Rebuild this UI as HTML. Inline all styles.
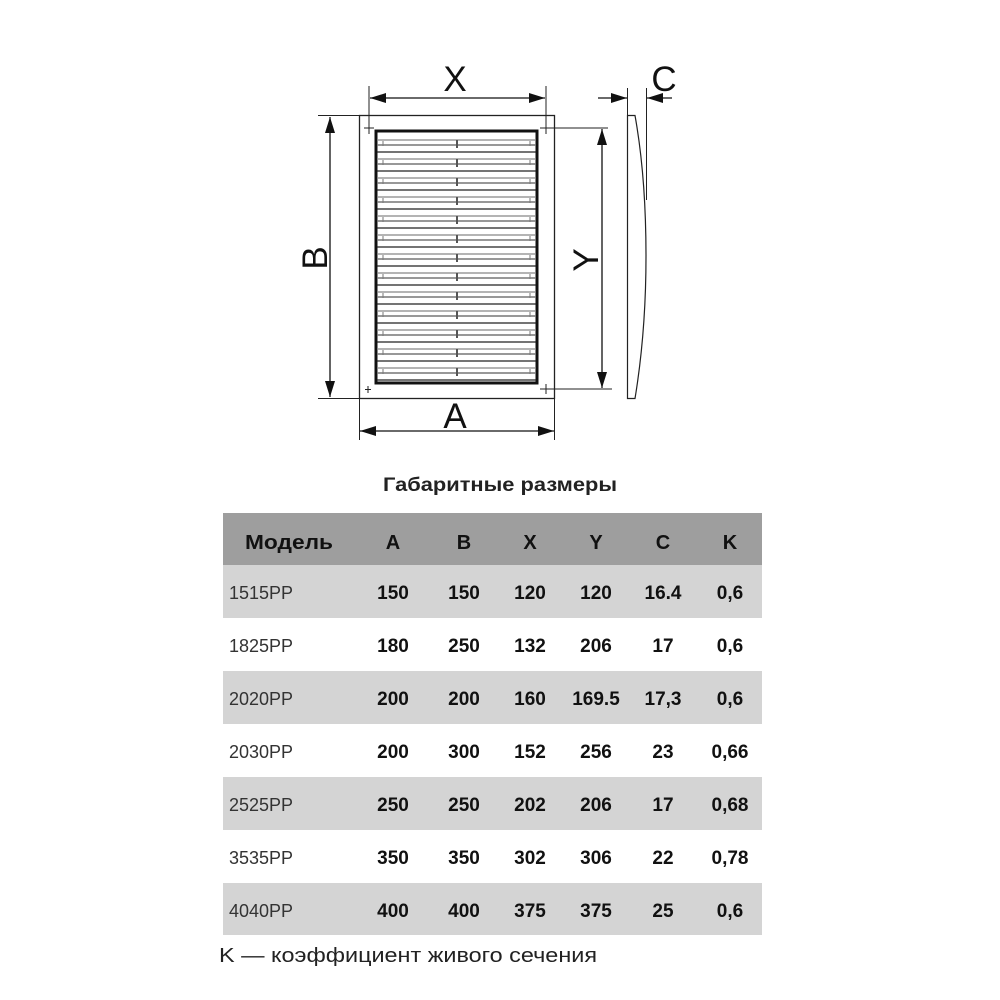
<!DOCTYPE html>
<html><head><meta charset="utf-8"><style>
html,body{margin:0;padding:0;background:#fff;}
svg{display:block}
text{font-family:"Liberation Sans","DejaVu Sans",sans-serif;}
</style></head><body>
<svg width="1000" height="1000" viewBox="0 0 1000 1000" xmlns="http://www.w3.org/2000/svg">
<defs>
<marker id="ar2" viewBox="0 0 16 10" refX="16" refY="5" markerWidth="16" markerHeight="10" markerUnits="userSpaceOnUse" orient="auto-start-reverse">
<path d="M0,0 L16,5 L0,10 Z" fill="#111"/></marker>
<g id="slat">
<line x1="377" y1="0" x2="536" y2="0" stroke="#888" stroke-width="1.2"/>
<line x1="377" y1="5" x2="536" y2="5" stroke="#777" stroke-width="1.5"/>
<line x1="377" y1="12" x2="536" y2="12" stroke="#222" stroke-width="1.3"/>
<line x1="383" y1="1" x2="383" y2="6" stroke="#777" stroke-width="1"/>
<line x1="530" y1="1" x2="530" y2="6" stroke="#777" stroke-width="1"/>
<line x1="457" y1="0" x2="457" y2="8" stroke="#555" stroke-width="2"/>
</g>
</defs>
<rect x="359.5" y="115.5" width="195" height="283" fill="none" stroke="#222" stroke-width="1.3"/>
<rect x="376" y="131" width="161" height="252" fill="#fff" stroke="#111" stroke-width="3"/>
<use href="#slat" transform="translate(0,140)"/>
<use href="#slat" transform="translate(0,159)"/>
<use href="#slat" transform="translate(0,178)"/>
<use href="#slat" transform="translate(0,197)"/>
<use href="#slat" transform="translate(0,216)"/>
<use href="#slat" transform="translate(0,235)"/>
<use href="#slat" transform="translate(0,254)"/>
<use href="#slat" transform="translate(0,273)"/>
<use href="#slat" transform="translate(0,292)"/>
<use href="#slat" transform="translate(0,311)"/>
<use href="#slat" transform="translate(0,330)"/>
<use href="#slat" transform="translate(0,349)"/>
<use href="#slat" transform="translate(0,368)"/>
<g stroke="#222" stroke-width="1">
<line x1="369" y1="86" x2="369" y2="134"/><line x1="364" y1="128" x2="374" y2="128"/>
<line x1="546" y1="86" x2="546" y2="134"/><line x1="540" y1="128" x2="608" y2="128"/>
<line x1="318" y1="115.5" x2="359" y2="115.5"/><line x1="318" y1="398.5" x2="359" y2="398.5"/>
<line x1="359.5" y1="398" x2="359.5" y2="440"/><line x1="554.5" y1="380" x2="554.5" y2="440"/>
<line x1="540" y1="389" x2="612" y2="389"/><line x1="546" y1="384" x2="546" y2="394"/>
<line x1="368" y1="386" x2="368" y2="393"/><line x1="365" y1="389.5" x2="371" y2="389.5"/>
<line x1="627.5" y1="88" x2="627.5" y2="115"/><line x1="646.5" y1="88" x2="646.5" y2="200"/>
</g>
<g stroke="#111" stroke-width="1.3" fill="none">
<line x1="370" y1="98" x2="545" y2="98" marker-start="url(#ar2)" marker-end="url(#ar2)"/>
<line x1="330" y1="117" x2="330" y2="397" marker-start="url(#ar2)" marker-end="url(#ar2)"/>
<line x1="360" y1="431" x2="554" y2="431" marker-start="url(#ar2)" marker-end="url(#ar2)"/>
<line x1="602" y1="129" x2="602" y2="388" marker-start="url(#ar2)" marker-end="url(#ar2)"/>
<line x1="598" y1="98" x2="627" y2="98" marker-end="url(#ar2)"/>
<line x1="672" y1="98" x2="647" y2="98" marker-end="url(#ar2)"/>
</g>
<path d="M627.5,115.5 L635,115.5 C643,160 646,210 646,256 C646,300 643,350 635,398.5 L627.5,398.5 Z" fill="#fff" stroke="#222" stroke-width="1.2"/>
<g font-size="35" fill="#111" text-anchor="middle">
<text x="455" y="91">X</text>
<text x="664" y="91">C</text>
<text x="455" y="428">A</text>
<text transform="translate(327,258) rotate(-90)">B</text>
<text transform="translate(598,260) rotate(-90)">Y</text>
</g>
<text x="383" y="491" font-size="19" font-weight="bold" fill="#222" textLength="234" lengthAdjust="spacingAndGlyphs">Габаритные размеры</text>
<rect x="223" y="513" width="539" height="52" fill="#9e9e9e"/>
<rect x="223" y="565" width="539" height="53" fill="#d4d4d4"/>
<rect x="223" y="671" width="539" height="53" fill="#d4d4d4"/>
<rect x="223" y="777" width="539" height="53" fill="#d4d4d4"/>
<rect x="223" y="883" width="539" height="52" fill="#d4d4d4"/>
<g font-size="20" font-weight="bold" fill="#111" text-anchor="middle">
<text x="289" y="549" textLength="88" lengthAdjust="spacingAndGlyphs">Модель</text><text x="393" y="549">A</text><text x="464" y="549">B</text><text x="530" y="549">X</text><text x="596" y="549">Y</text><text x="663" y="549">C</text><text x="730" y="549">K</text>
</g>
<g font-size="18" fill="#333">
<text x="229" y="599">1515PP</text><text x="229" y="652">1825PP</text><text x="229" y="705">2020PP</text><text x="229" y="758">2030PP</text><text x="229" y="811">2525PP</text><text x="229" y="864">3535PP</text><text x="229" y="917">4040PP</text>
</g>
<g font-size="19" font-weight="bold" fill="#111" text-anchor="middle">
<text x="393" y="599">150</text><text x="464" y="599">150</text><text x="530" y="599">120</text><text x="596" y="599">120</text><text x="663" y="599">16.4</text><text x="730" y="599">0,6</text>
<text x="393" y="652">180</text><text x="464" y="652">250</text><text x="530" y="652">132</text><text x="596" y="652">206</text><text x="663" y="652">17</text><text x="730" y="652">0,6</text>
<text x="393" y="705">200</text><text x="464" y="705">200</text><text x="530" y="705">160</text><text x="596" y="705">169.5</text><text x="663" y="705">17,3</text><text x="730" y="705">0,6</text>
<text x="393" y="758">200</text><text x="464" y="758">300</text><text x="530" y="758">152</text><text x="596" y="758">256</text><text x="663" y="758">23</text><text x="730" y="758">0,66</text>
<text x="393" y="811">250</text><text x="464" y="811">250</text><text x="530" y="811">202</text><text x="596" y="811">206</text><text x="663" y="811">17</text><text x="730" y="811">0,68</text>
<text x="393" y="864">350</text><text x="464" y="864">350</text><text x="530" y="864">302</text><text x="596" y="864">306</text><text x="663" y="864">22</text><text x="730" y="864">0,78</text>
<text x="393" y="917">400</text><text x="464" y="917">400</text><text x="530" y="917">375</text><text x="596" y="917">375</text><text x="663" y="917">25</text><text x="730" y="917">0,6</text>
</g>
<text x="219" y="962" font-size="20" fill="#222" textLength="378" lengthAdjust="spacingAndGlyphs">K — коэффициент живого сечения</text>
</svg>
</body></html>
